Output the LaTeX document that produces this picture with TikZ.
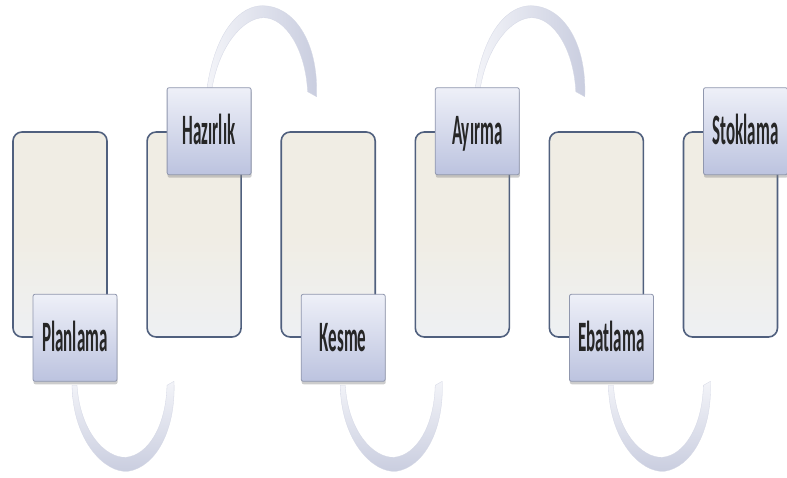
\documentclass[tikz,border=0pt]{standalone}
\usepackage{fontspec}
\setmainfont{Carlito}
\usepackage{graphicx}
\usetikzlibrary{shadows}
\definecolor{boxline}{HTML}{50607E}
\definecolor{boxtop}{HTML}{F0EDE4}
\definecolor{boxbot}{HTML}{EEF0F3}
\definecolor{labtop}{HTML}{EEF0F8}
\definecolor{labbot}{HTML}{BCC3DF}
\definecolor{labline}{HTML}{9097AE}
\definecolor{arcc}{HTML}{DCDFEC}
\definecolor{arce}{HTML}{C9CDDF}
\newcommand{\lbltext}[1]{\scalebox{1}[2.55]{#1}}
\begin{document}
\begin{tikzpicture}[x=1pt,y=-1pt,
  bigbox/.style={draw=boxline, line width=1.6pt, rounded corners=9pt,
    minimum width=94pt, minimum height=205pt, inner sep=0pt,
    top color=boxtop, bottom color=boxbot, middle color=boxtop},
  labbox/.style={draw=labline, line width=0.8pt, rounded corners=2pt,
    minimum width=84pt, minimum height=87pt, inner sep=0pt,
    top color=labtop, bottom color=labbot,
    text height=27pt, text depth=0pt, text=black!85,
    font=\fontsize{17}{17}\selectfont\bfseries,
    drop shadow={shadow xshift=0.5pt, shadow yshift=-3pt, opacity=0.4}},
  arcbot/.style={draw=arce!80!white, line width=0.3pt, top color=arcc!35!white, bottom color=arce},
  arctop/.style={draw=arce!80!white, line width=0.3pt, left color=arcc!35!white, right color=arce},
  botarc/.pic={\path[arcbot] (-3,4) .. controls (-2,60) and (30,92) .. (53,90)
      .. controls (80,86) and (101,50) .. (99,0) -- (92,4)
      .. controls (91,45) and (73,74) .. (51,76)
      .. controls (30,77) and (5,50) .. (2,4) -- cycle;},
  toparc/.pic={\path[arctop] (-2,0) .. controls (6.5,-58) and (31.5,-82) .. (53.5,-82)
      .. controls (83.5,-82) and (109.5,-48) .. (107.5,9) -- (98.5,4)
      .. controls (96.5,-38) and (76.5,-70) .. (54.5,-70)
      .. controls (34.5,-70) and (10.5,-43) .. (3,0) -- cycle;}
]
\useasboundingbox (0,0) rectangle (787,478);
\fill[white] (0,0) rectangle (787,478);
% main boxes
\node[bigbox] (b0) at (60,234.5) {};
\node[bigbox] (b1) at (194.1,234.5) {};
\node[bigbox] (b2) at (328.2,234.5) {};
\node[bigbox] (b3) at (462.3,234.5) {};
\node[bigbox] (b4) at (596.4,234.5) {};
\node[bigbox] (b5) at (730.5,234.5) {};
% label coordinates
\coordinate (p0) at ([xshift=15pt]b0.south);
\coordinate (p1) at ([xshift=15pt]b1.north);
\coordinate (p2) at ([xshift=15pt]b2.south);
\coordinate (p3) at ([xshift=15pt]b3.north);
\coordinate (p4) at ([xshift=15pt]b4.south);
\coordinate (p5) at ([xshift=15pt]b5.north);
% arrows
\pic at ([yshift=-43.5pt]p0) {botarc};
\pic at ([yshift=43.5pt]p1) {toparc};
\pic at ([yshift=-43.5pt]p2) {botarc};
\pic at ([yshift=43.5pt]p3) {toparc};
\pic at ([yshift=-43.5pt]p4) {botarc};
% labels
\node[labbox] (l0) at (p0) {\lbltext{Planlama}};
\node[labbox] (l1) at (p1) {\lbltext{Hazırlık}};
\node[labbox] (l2) at (p2) {\lbltext{Kesme}};
\node[labbox] (l3) at (p3) {\lbltext{Ayırma}};
\node[labbox] (l4) at (p4) {\lbltext{Ebatlama}};
\node[labbox] (l5) at (p5) {\lbltext{Stoklama}};
\end{tikzpicture}
\end{document}
